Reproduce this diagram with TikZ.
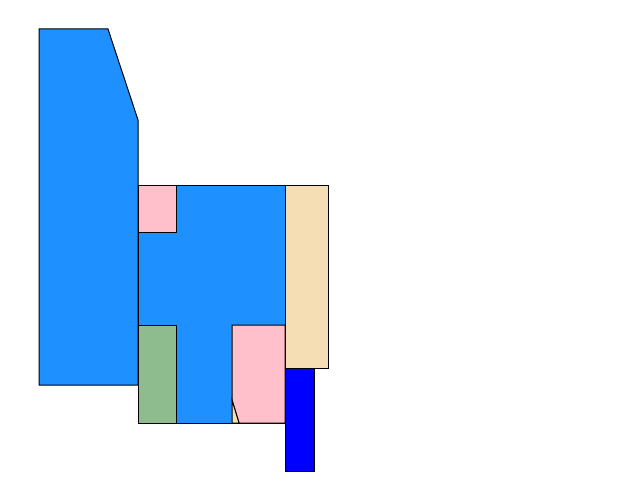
\documentclass[tikz,border=0pt]{standalone}
\usepackage{xcolor}
\usepackage{tikz}
\definecolor{dodger}{RGB}{30,144,255}
\definecolor{lightpink}{RGB}{255,192,203}
\definecolor{seagreen}{RGB}{143,188,143}
\definecolor{wheatc}{RGB}{245,222,179}
\definecolor{pureblue}{RGB}{0,0,255}

\begin{document}
\begin{tikzpicture}[
  x=1pt, y=-1pt,
  part/.style={draw=black, line width=1pt, line join=miter}
]
  \useasboundingbox (0,0) rectangle (640,500);
  % Large blocks
  \fill[part, fill=dodger] (39,29) -- (108,29) -- (138,120) -- (138,385)
    -- (39,385) -- cycle;
  \fill[part, fill=dodger] (138,185) rectangle (285,423);
  \fill[part, fill=wheatc] (285,185) rectangle (328,368);
  \fill[part, fill=pureblue] (285,368) rectangle (314,471);
  % Inner pieces
  \fill[part, fill=lightpink] (138,185) rectangle (176,232);
  \fill[part, fill=seagreen] (138,325) rectangle (176,423);
  \fill[part, fill=lightpink] (232,325) -- (285,325) -- (285,423)
    -- (239,423) -- (232,400) -- cycle;
  \fill[part, fill=wheatc] (232,400) -- (239,423) -- (232,423) -- cycle;
\end{tikzpicture}
\end{document}
